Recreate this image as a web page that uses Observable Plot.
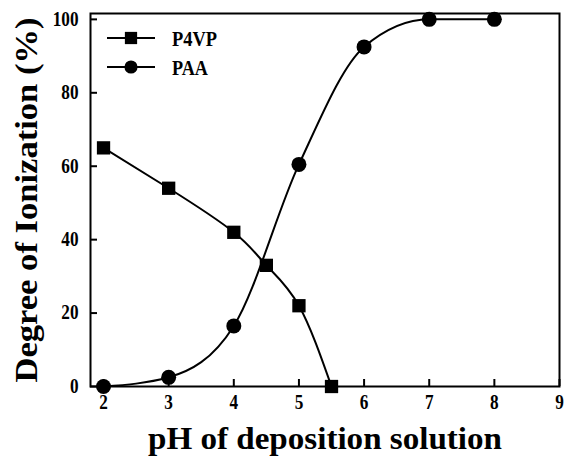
<!DOCTYPE html>
<html>
<head>
<meta charset="utf-8">
<script src="https://cdn.jsdelivr.net/npm/d3@7"></script>
<script src="https://cdn.jsdelivr.net/npm/@observablehq/plot@0.6"></script>
<style>
  html, body { margin: 0; padding: 0; background: #fff; }
  #wrap { position: relative; width: 564px; height: 456px; }
  svg text { font-family: "Liberation Serif", "Times New Roman", serif; font-weight: bold; }
  [aria-label="x-axis label"] text { font-size: 32px; }
  [aria-label="y-axis label"] text { font-size: 31px; }
</style>
</head>
<body>
<div id="wrap"></div>
<script>
const phP4VP = [2, 3, 4, 4.5, 5, 5.5];
const ionP4VP = [65, 54, 42, 33, 22, 0];
const phPAA = [2, 3, 4, 5, 6, 7, 8];
const ionPAA = [0, 2.5, 16.5, 60.5, 92.5, 100, 100];
const xTicks = [2, 3, 4, 5, 6, 7, 8, 9];
const yTicks = [0, 20, 40, 60, 80, 100];
const seriesNames = ["P4VP", "PAA"];

const p4vp = phP4VP.map((x, i) => ({x, y: ionP4VP[i]}));
const paa = phPAA.map((x, i) => ({x, y: ionPAA[i]}));

const W = 564, H = 456;
const chart = Plot.plot({
  width: W, height: H,
  marginLeft: 90, marginRight: 5, marginTop: 13, marginBottom: 70,
  style: {fontFamily: "Liberation Serif, serif", fontSize: "16px", fontWeight: "bold", color: "#000", background: "#fff"},
  x: {domain: [1.8, 9]},
  y: {domain: [0, 101.6]},
  marks: [
    Plot.tickX(xTicks, {x: d => d, stroke: "#000", strokeWidth: 2, insetTop: H - 13 - 70 - 7}),
    Plot.tickY(yTicks, {y: d => d, stroke: "#000", strokeWidth: 2, insetRight: W - 90 - 5 - 7}),
    Plot.text(xTicks, {x: d => d, text: d => String(d), frameAnchor: "bottom", dy: 22, fontSize: 20, fontWeight: "bold", fill: "#000", className: "ticklab"}),
    Plot.text(yTicks, {y: d => d, text: d => String(d), frameAnchor: "left", dx: -12, textAnchor: "end", fontSize: 20, fontWeight: "bold", fill: "#000", className: "ticklab"}),
    Plot.axisX({ticks: [], label: "pH of deposition solution", labelAnchor: "center", labelOffset: 62, labelArrow: "none"}),
    Plot.axisY({ticks: [], label: "Degree of Ionization (%)", labelAnchor: "center", labelOffset: 76, labelArrow: "none"}),
    Plot.line(p4vp, {x: "x", y: "y", curve: "natural", stroke: "#000", strokeWidth: 2}),
    Plot.line(paa, {x: "x", y: "y", curve: "monotone-x", stroke: "#000", strokeWidth: 2}),
    Plot.dot(p4vp, {x: "x", y: "y", symbol: "square", r: 7.5, fill: "#000"}),
    Plot.dot(paa, {x: "x", y: "y", symbol: "circle", r: 7.5, fill: "#000"}),
    Plot.frame({stroke: "#000", strokeWidth: 2})
  ]
});
document.getElementById("wrap").appendChild(chart);

// condensed text like the reference
const svg = d3.select(chart);
svg.selectAll('.ticklab text')
  .each(function() {
    const n = this.textContent.length;
    d3.select(this).attr("textLength", n * 8.6).attr("lengthAdjust", "spacingAndGlyphs");
  });
svg.selectAll('[aria-label="x-axis label"] text').attr("textLength", 354).attr("lengthAdjust", "spacingAndGlyphs");
svg.selectAll('[aria-label="y-axis label"] text').attr("textLength", 365).attr("lengthAdjust", "spacingAndGlyphs");

// legend overlay
const leg = d3.select("#wrap").append("svg")
  .attr("width", 200).attr("height", 80)
  .style("position", "absolute").style("left", "100px").style("top", "25px");
const sym = [d3.symbolSquare, d3.symbolCircle];
const sizes = [150, 135];
const legW = [45, 36];
seriesNames.forEach((name, i) => {
  const yy = 13 + i * 29;
  leg.append("line").attr("x1", 7).attr("x2", 55).attr("y1", yy).attr("y2", yy).attr("stroke", "#000").attr("stroke-width", 2);
  leg.append("path").attr("d", d3.symbol(sym[i], sizes[i])()).attr("transform", `translate(31,${yy})`).attr("fill", "#000");
  leg.append("text").attr("x", 72).attr("y", yy).attr("dy", "0.36em").style("font-size", "22px")
    .attr("textLength", legW[i]).attr("lengthAdjust", "spacingAndGlyphs").text(name);
});
</script>
</body>
</html>
